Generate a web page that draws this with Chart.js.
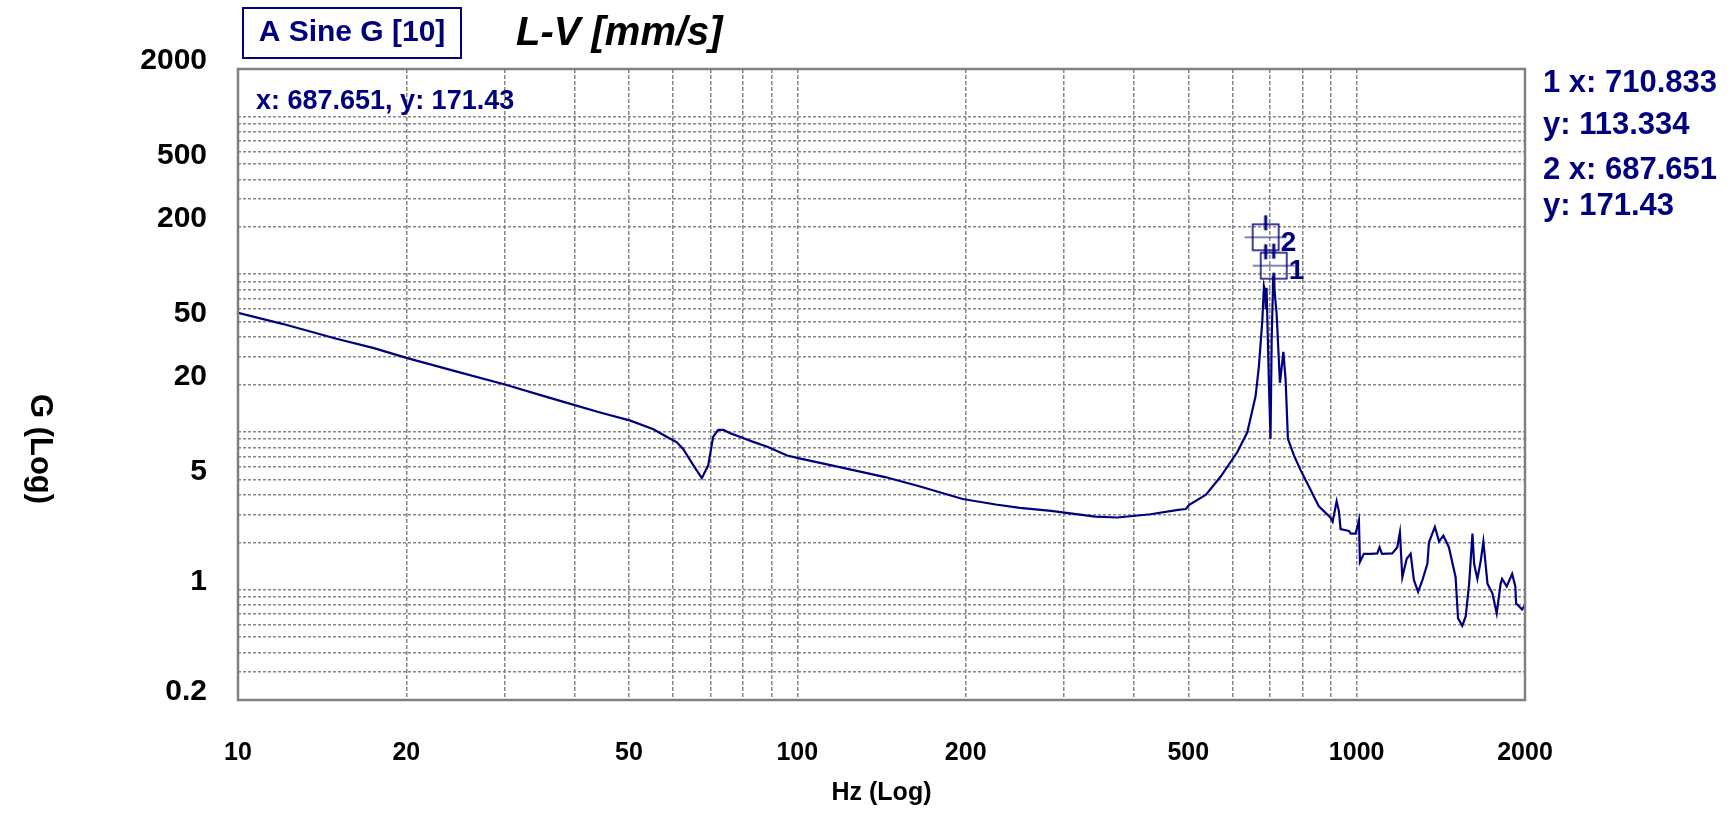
<!DOCTYPE html>
<html>
<head>
<meta charset="utf-8">
<title>L-V [mm/s]</title>
<script src="https://cdn.jsdelivr.net/npm/chart.js@4.4.1/dist/chart.umd.min.js"></script>
<style>
    html, body { margin: 0; padding: 0; background: #ffffff; }
    #wrap { width: 1734px; height: 816px; }
</style>
</head>
<body>
<div id="wrap"><canvas id="chart" width="1734" height="816"></canvas></div>
<script>
// Sine sweep response (Hz vs G, log/log)
const freqHz = [
    10, 12, 15, 17.5, 20, 25, 30, 35, 40, 44.4,
    50.3, 55.3, 58.5, 60.9, 62.5, 65.2, 67.5, 69.3, 70.7, 72.2,
    73.8, 76, 79.1, 83.4, 88.4, 95.9, 101.3, 119.6, 143.5, 164.6,
    197.5, 226.3, 250, 284.2, 341, 373.5, 428, 479.7, 495, 502,
    537.8, 571, 612, 637.6, 659.7, 668.7, 678.2, 682.7, 686, 688,
    690.2, 693.9, 697, 701.5, 705, 709.5, 713, 719.4, 729.3, 739.6,
    746.5, 753.6, 772.5, 794, 827.7, 838, 856, 898.5, 906, 921,
    929.6, 936, 969, 976, 995.9, 1009.5, 1013.7, 1030, 1059, 1089,
    1099, 1110, 1158, 1182, 1195, 1207, 1229, 1249, 1266, 1288,
    1311, 1338, 1347, 1380, 1404, 1429, 1462, 1503, 1518, 1545,
    1567, 1589, 1611, 1622, 1644, 1667, 1685, 1714, 1749, 1780,
    1809, 1820, 1855, 1897, 1922, 1928, 1976, 2000
];
const levelG = [
    57, 48.5, 39, 34, 29.5, 23.8, 20, 17, 14.8, 13.3,
    11.8, 10.4, 9.3, 8.6, 7.8, 6.15, 5.1, 6.15, 9.3, 10.3,
    10.3, 9.8, 9.3, 8.66, 8.06, 7.1, 6.78, 5.97, 5.18, 4.55,
    3.76, 3.47, 3.3, 3.16, 2.91, 2.87, 3.01, 3.21, 3.25, 3.45,
    4.0, 5.2, 7.46, 9.95, 16.9, 26, 50.8, 84, 78, 60,
    82, 38, 20, 9.04, 40, 97, 80, 56, 20.5, 32.2,
    21.4, 9.04, 7.1, 5.73, 4.29, 3.91, 3.38, 2.86, 2.7, 3.64,
    3.15, 2.42, 2.36, 2.27, 2.27, 2.75, 1.5, 1.69, 1.69, 1.7,
    1.86, 1.69, 1.7, 1.86, 2.31, 1.2, 1.57, 1.69, 1.15, 0.97,
    1.15, 1.46, 2.0, 2.5, 2.02, 2.2, 1.86, 1.2, 0.66, 0.59,
    0.68, 1.09, 2.27, 1.46, 1.17, 1.53, 2.02, 1.09, 0.95, 0.71,
    1.09, 1.17, 1.05, 1.26, 1.05, 0.82, 0.75, 0.8
];

// cursors placed on the peak
const markerNames = ['1', '2'];
const markerHz = [710.833, 687.651];
const markerG = [113.334, 171.43];

// axes
const xTickLabels = [10, 20, 50, 100, 200, 500, 1000, 2000];
const xGridValues = [10, 20, 30, 40, 50, 60, 70, 80, 90, 100, 200, 300, 400, 500, 600, 700, 800, 900, 1000, 2000];
const yTickLabels = [0.2, 1, 5, 20, 50, 200, 500, 2000];
const yGridValues = [
    0.2, 0.3, 0.4, 0.5, 0.6, 0.7, 0.8, 0.9,
    1, 2, 3, 4, 5, 6, 7, 8, 9,
    10, 20, 30, 40, 50, 60, 70, 80, 90,
    100, 200, 300, 400, 500, 600, 700, 800, 900,
    1000, 2000
];

const NAVY = '#00007f';
const GRID = '#868686';
const FONT = "'Liberation Sans', Arial, sans-serif";

// little box + crosshair used for the cursor markers
function makeCursorIcon() {
    const c = document.createElement('canvas');
    c.width = 46;
    c.height = 46;
    const g = c.getContext('2d');
    g.strokeStyle = NAVY;
    g.lineWidth = 1.5;
    g.strokeRect(10, 10, 26, 26);
    g.lineWidth = 1;
    g.beginPath();
    g.moveTo(2, 23); g.lineTo(44, 23);
    g.stroke();
    g.lineWidth = 3;
    g.beginPath();
    g.moveTo(23, 1); g.lineTo(23, 16);
    g.moveTo(23, 30); g.lineTo(23, 45);
    g.stroke();
    return c;
}

// frame, header texts, cursor readouts and the rotated y title
const decorations = {
    id: 'decorations',
    afterDraw(chart) {
        const ctx = chart.ctx;
        const a = chart.chartArea;
        ctx.save();

        // plot frame
        ctx.strokeStyle = '#808080';
        ctx.lineWidth = 2.5;
        ctx.setLineDash([]);
        ctx.strokeRect(a.left, a.top, a.right - a.left, a.bottom - a.top);

        // header
        ctx.strokeStyle = NAVY;
        ctx.lineWidth = 2;
        ctx.strokeRect(243, 8, 218, 50);
        ctx.fillStyle = NAVY;
        ctx.font = 'bold 30px ' + FONT;
        ctx.textAlign = 'center';
        ctx.textBaseline = 'middle';
        ctx.fillText('A Sine G [10]', 352, 33);

        ctx.fillStyle = '#000000';
        ctx.font = 'italic bold 40px ' + FONT;
        ctx.textAlign = 'left';
        ctx.fillText('L-V [mm/s]', 516, 34);

        // active cursor readout
        ctx.fillStyle = NAVY;
        ctx.font = 'bold 27px ' + FONT;
        ctx.fillText('x: ' + markerHz[1] + ', y: ' + markerG[1], 256, 102);

        // cursor list on the right
        ctx.font = 'bold 31px ' + FONT;
        const rows = [83, 125, 170, 206];
        markerNames.forEach((name, i) => {
            ctx.fillText(name + ' x: ' + markerHz[i].toFixed(3), 1543, rows[i * 2]);
            ctx.fillText('y: ' + markerG[i], 1543, rows[i * 2 + 1]);
        });

        // cursor numbers next to the boxes
        const xs = chart.scales.x;
        const ys = chart.scales.y;
        ctx.font = 'bold 28px ' + FONT;
        markerNames.forEach((name, i) => {
            const px = xs.getPixelForValue(markerHz[i]);
            const py = ys.getPixelForValue(markerG[i]);
            ctx.fillText(name, px + 15, py + 6);
        });

        // y axis title, reads top to bottom
        ctx.fillStyle = '#000000';
        ctx.font = 'bold 31px ' + FONT;
        ctx.translate(40, 449);
        ctx.rotate(Math.PI / 2);
        ctx.textAlign = 'center';
        ctx.fillText('G (Log)', 0, 0);

        ctx.restore();
    }
};

const cursorIcon = makeCursorIcon();

const chart = new Chart(document.getElementById('chart').getContext('2d'), {
    type: 'line',
    data: {
        datasets: [
            {
                label: 'cursors',
                type: 'scatter',
                data: markerHz.map((f, i) => ({ x: f, y: markerG[i] })),
                pointStyle: cursorIcon,
                pointRadius: 23,
                showLine: false
            },
            {
                label: 'A Sine G',
                data: freqHz.map((f, i) => ({ x: f, y: levelG[i] })),
                borderColor: NAVY,
                borderWidth: 2.2,
                pointRadius: 0,
                tension: 0,
                fill: false
            }
        ]
    },
    options: {
        responsive: false,
        animation: false,
        devicePixelRatio: 1,
        layout: { padding: { left: 0, right: 209, top: 69, bottom: 0 } },
        plugins: {
            legend: { display: false },
            tooltip: { enabled: false }
        },
        scales: {
            x: {
                type: 'logarithmic',
                min: 10,
                max: 2000,
                afterBuildTicks: scale => {
                    scale.ticks = xGridValues.map(v => ({ value: v }));
                },
                afterFit: scale => { scale.height = 116; },
                ticks: {
                    autoSkip: false,
                    maxRotation: 0,
                    padding: 38,
                    color: '#000000',
                    font: { family: FONT, size: 25, weight: 'bold' },
                    callback: v => xTickLabels.includes(v) ? String(v) : ''
                },
                grid: { color: GRID, lineWidth: 1.5, drawTicks: false },
                border: { display: false, dash: [4, 2] },
                title: {
                    display: true,
                    text: 'Hz (Log)',
                    color: '#000000',
                    font: { family: FONT, size: 25, weight: 'bold' },
                    padding: { top: 0, bottom: 8 }
                }
            },
            y: {
                type: 'logarithmic',
                min: 0.2,
                max: 2000,
                afterBuildTicks: scale => {
                    scale.ticks = yGridValues.map(v => ({ value: v }));
                },
                afterFit: scale => { scale.width = 238; },
                ticks: {
                    autoSkip: false,
                    padding: 31,
                    labelOffset: -8,
                    color: '#000000',
                    font: { family: FONT, size: 30, weight: 'bold' },
                    callback: v => yTickLabels.includes(v) ? String(v) : ''
                },
                grid: { color: GRID, lineWidth: 1.5, drawTicks: false },
                border: { display: false, dash: [3, 2] }
            }
        }
    },
    plugins: [decorations]
});
</script>
</body>
</html>
